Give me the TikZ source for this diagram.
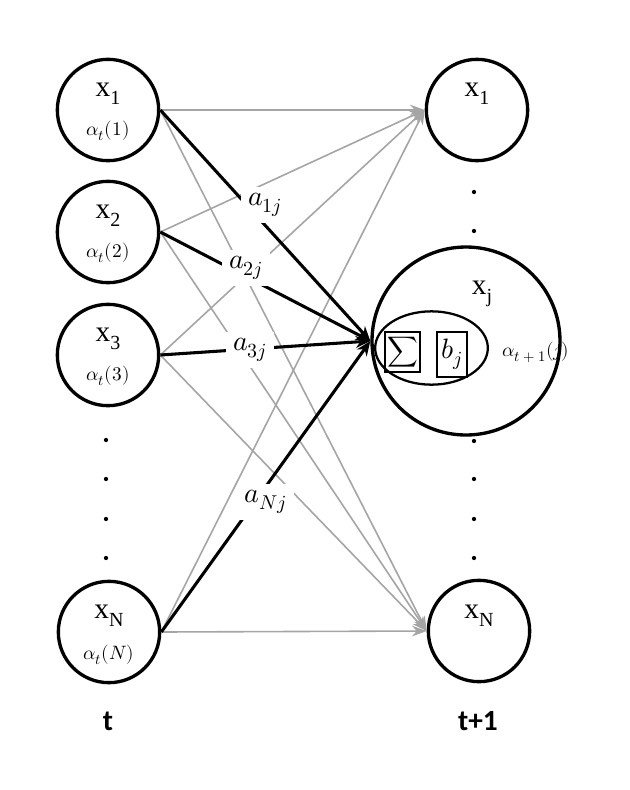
\documentclass[tikz,border=0pt]{standalone}
\usepackage{fontspec}
\usepackage{unicode-math}
\setmainfont{Liberation Serif}
\setmathfont{Latin Modern Math}
\newfontfamily\tfont{Carlito}
\usetikzlibrary{arrows.meta,shapes.geometric}
\definecolor{lgray}{RGB}{165,165,165}
\newcommand{\xsub}[1]{{\fontsize{22}{24}\selectfont x\raisebox{-6pt}{\fontsize{15}{15}\selectfont #1}}}
\newcommand{\subm}[1]{\hbox{\fontsize{15}{15}\selectfont$#1$}}
\newcommand{\subs}[1]{\hbox{\fontsize{11}{11}\selectfont$#1$}}
\newcommand{\alp}[1]{{\fontsize{14.5}{16}\selectfont$\alpha_{\subs{t}}(#1)$}}
\begin{document}
\begin{tikzpicture}[x=0.75pt,y=-0.75pt,
  st/.style={circle,draw,line width=2.5pt,minimum size=76pt,inner sep=0pt},
  bigc/.style={circle,draw,line width=2.5pt,minimum size=141pt,inner sep=0pt},
  ell/.style={ellipse,draw,line width=1.7pt,minimum width=84.5pt,minimum height=55pt,inner sep=0pt},
  boxn/.style={draw,line width=1.2pt,inner sep=0pt},
  dotn/.style={circle,fill=black,minimum size=3.2pt,inner sep=0pt},
  garr/.style={lgray,line width=1.2pt,-{Stealth[length=11pt,width=8pt]}},
  barr/.style={black,line width=2.3pt,-{Stealth[length=11pt,width=9pt]}},
  alab/.style={fill=white,inner sep=5pt},
  txt/.style={inner sep=0pt}]
\useasboundingbox (0,0) rectangle (630,790);
% left nodes
\node[st] (L1) at (108,110) {};
\node[st] (L2) at (108,232) {};
\node[st] (L3) at (108,355) {};
\node[st] (LN) at (109,632) {};
% right nodes
\node[st] (R1) at (477,110) {};
\node[st] (RN) at (479,631) {};
\node[bigc] (B) at (466,341) {};
\node[ell] (E) at (431.5,348) {};
% gray arrows
\foreach \s in {L1,L2,L3,LN}{
  \draw[garr] (\s.east) -- (R1.west);
  \draw[garr] (\s.east) -- (RN.west);
}
% black arrows
\foreach \s in {L1,L2,L3,LN}{
  \draw[barr] (\s.east) -- (B.west);
}
% labels on arrows
\node[alab] (a1) at (265,205) {\fontsize{21}{23}\selectfont$a_{\subm{1j}}$};
\node[alab] (a2) at (246,268) {\fontsize{21}{23}\selectfont$a_{\subm{2j}}$};
\node[alab] (a3) at (250,350) {\fontsize{21}{23}\selectfont$a_{\subm{3j}}$};
\node[alab] (aN) at (266,502) {\fontsize{21}{23}\selectfont$a_{\subm{Nj}}$};
% texts in left nodes
\node[txt] (tL1) at (108,94) {\xsub{1}};
\node[txt] (aL1) at (108,131) {\alp{1}};
\node[txt] (tL2) at (108,216) {\xsub{2}};
\node[txt] (aL2) at (108,253) {\alp{2}};
\node[txt] (tL3) at (108,339) {\xsub{3}};
\node[txt] (aL3) at (108,376) {\alp{3}};
\node[txt] (tLN) at (109,616) {\xsub{N}};
\node[txt] (aLN) at (109,655) {\alp{N}};
% texts in right nodes
\node[txt] (tR1) at (477,94) {\xsub{1}};
\node[txt] (tRN) at (479,616) {\xsub{N}};
\node[txt] (tB) at (482,294) {\xsub{j}};
\node[txt] (aB) at (536,352) {\fontsize{14.5}{16}\selectfont$\alpha_{\subs{t+1}}(j)$};
% inner boxes
\node[boxn,minimum width=26pt,minimum height=30pt] (S) at (402.5,352) {\fontsize{16}{18}\selectfont$\displaystyle\sum$};
\node[boxn,minimum width=22.5pt,minimum height=33.5pt] (Bj) at (452,354.5) {\fontsize{21}{23}\selectfont$b_{\subm{j}}$};
% dots
\node[dotn] (dl1) at (106,440) {};
\node[dotn] (dl2) at (106,479) {};
\node[dotn] (dl3) at (106,519) {};
\node[dotn] (dl4) at (106,558) {};
\node[dotn] (dr1) at (474,192) {};
\node[dotn] (dr2) at (474,231) {};
\node[dotn] (dr3) at (474,441) {};
\node[dotn] (dr4) at (474,479) {};
\node[dotn] (dr5) at (474,519) {};
\node[dotn] (dr6) at (474,558) {};
% time labels
\node[txt] (T1) at (108,721) {\tfont\bfseries\fontsize{22}{24}\selectfont t};
\node[txt] (T2) at (478,721) {\tfont\bfseries\fontsize{22}{24}\selectfont t+1};
\end{tikzpicture}
\end{document}
